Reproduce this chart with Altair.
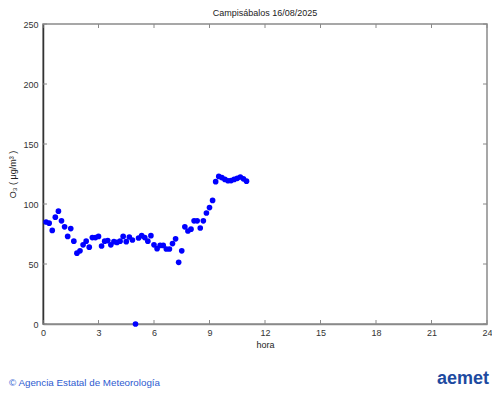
import altair as alt
import pandas as pd

# 10-minute O3 readings (µg/m3), 00:10 .. 11:00
o3 = [85, 84, 78, 89, 94, 86, 81, 73, 79.5, 69,
      59, 61, 66, 69, 64, 72, 72, 73, 65, 69,
      69.5, 66, 68.6, 68, 69, 73, 68.6, 72.5, 70, 0,
      71.7, 73.6, 72, 69, 73.6, 66, 62.8, 65.5, 65.5, 62.5,
      62.5, 67, 71, 51.4, 61, 81, 77.5, 79, 86, 86,
      80, 86, 92.5, 97, 103, 118.6, 123, 122, 120.5, 119.4,
      119.5, 120.5, 121.4, 122.5, 121, 119]
hours = [(i + 1) / 6 for i in range(len(o3))]
x_ticks = [0, 3, 6, 9, 12, 15, 18, 21, 24]
y_ticks = [0, 50, 100, 150, 200, 250]
title_text = ["Campisábalos 16/08/2025"]
footer_text = ["© Agencia Estatal de Meteorología"]
logo_text = ["aemet"]

W, H = 444, 300
GRAY = "#8a8a8a"
FONT = "Liberation Sans"

df = pd.DataFrame({"hora": hours, "o3": o3})
xt = pd.DataFrame({"t": x_ticks})
yt = pd.DataFrame({"v": y_ticks})

xscale = alt.Scale(domain=[0, 24], nice=False, zero=False)
yscale = alt.Scale(domain=[0, 250], nice=False)

points = alt.Chart(df).mark_circle(size=32, color="#0000ff", opacity=1).encode(
    x=alt.X("hora:Q", scale=xscale,
            axis=alt.Axis(values=x_ticks, title="hora", grid=False, tickSize=0,
                          labelPadding=4, labelFontSize=9, labelColor="#333333",
                          labelFont=FONT, titleFont=FONT, titleFontSize=9,
                          titleFontWeight="normal", titleColor="#222222",
                          titlePadding=3, domainColor=GRAY, domainWidth=1.5,
                          labelFlush=False)),
    y=alt.Y("o3:Q", scale=yscale,
            axis=alt.Axis(values=y_ticks, title="O₃ ( μg/m³ )", grid=False, tickSize=0,
                          labelPadding=5, labelFontSize=9, labelColor="#333333",
                          labelFont=FONT, titleFont=FONT, titleFontSize=9,
                          titleFontWeight="normal", titleColor="#222222",
                          titlePadding=5, domainColor="#333333", domainWidth=1.5)),
)

tick_b = alt.Chart(xt).mark_rule(color=GRAY).encode(
    x=alt.X("t:Q", scale=xscale), y=alt.value(H), y2=alt.value(H - 4))
tick_t = alt.Chart(xt).mark_rule(color=GRAY).encode(
    x=alt.X("t:Q", scale=xscale), y=alt.value(0), y2=alt.value(4))
tick_l = alt.Chart(yt).mark_rule(color=GRAY).encode(
    y=alt.Y("v:Q", scale=yscale), x=alt.value(0), x2=alt.value(4))
tick_r = alt.Chart(yt).mark_rule(color=GRAY).encode(
    y=alt.Y("v:Q", scale=yscale), x=alt.value(W), x2=alt.value(W - 4))

title = alt.Chart(pd.DataFrame({"s": title_text})).mark_text(
    align="center", baseline="middle", font=FONT, fontSize=9, color="#222222"
).encode(text="s:N", x=alt.value(W / 2), y=alt.value(-11))

footer = alt.Chart(pd.DataFrame({"s": footer_text})).mark_text(
    align="left", baseline="middle", font=FONT, fontSize=9.8, color="#2d5bd0"
).encode(text="s:N", x=alt.value(-34), y=alt.value(359))

logo = alt.Chart(pd.DataFrame({"s": logo_text})).mark_text(
    align="right", baseline="middle", font=FONT, fontSize=18, fontWeight="bold",
    color="#1d4aa0"
).encode(text="s:N", x=alt.value(W + 2), y=alt.value(355))

chart = alt.layer(points, tick_b, tick_t, tick_l, tick_r, title, footer, logo).properties(
    width=W, height=H,
    autosize=alt.AutoSizeParams(type="none"),
    padding={"left": 35, "top": 16, "right": 5, "bottom": 70},
).configure_view(stroke=GRAY, strokeWidth=1.5)

chart.save("out.html", embed_options={"renderer": "svg", "actions": False})
